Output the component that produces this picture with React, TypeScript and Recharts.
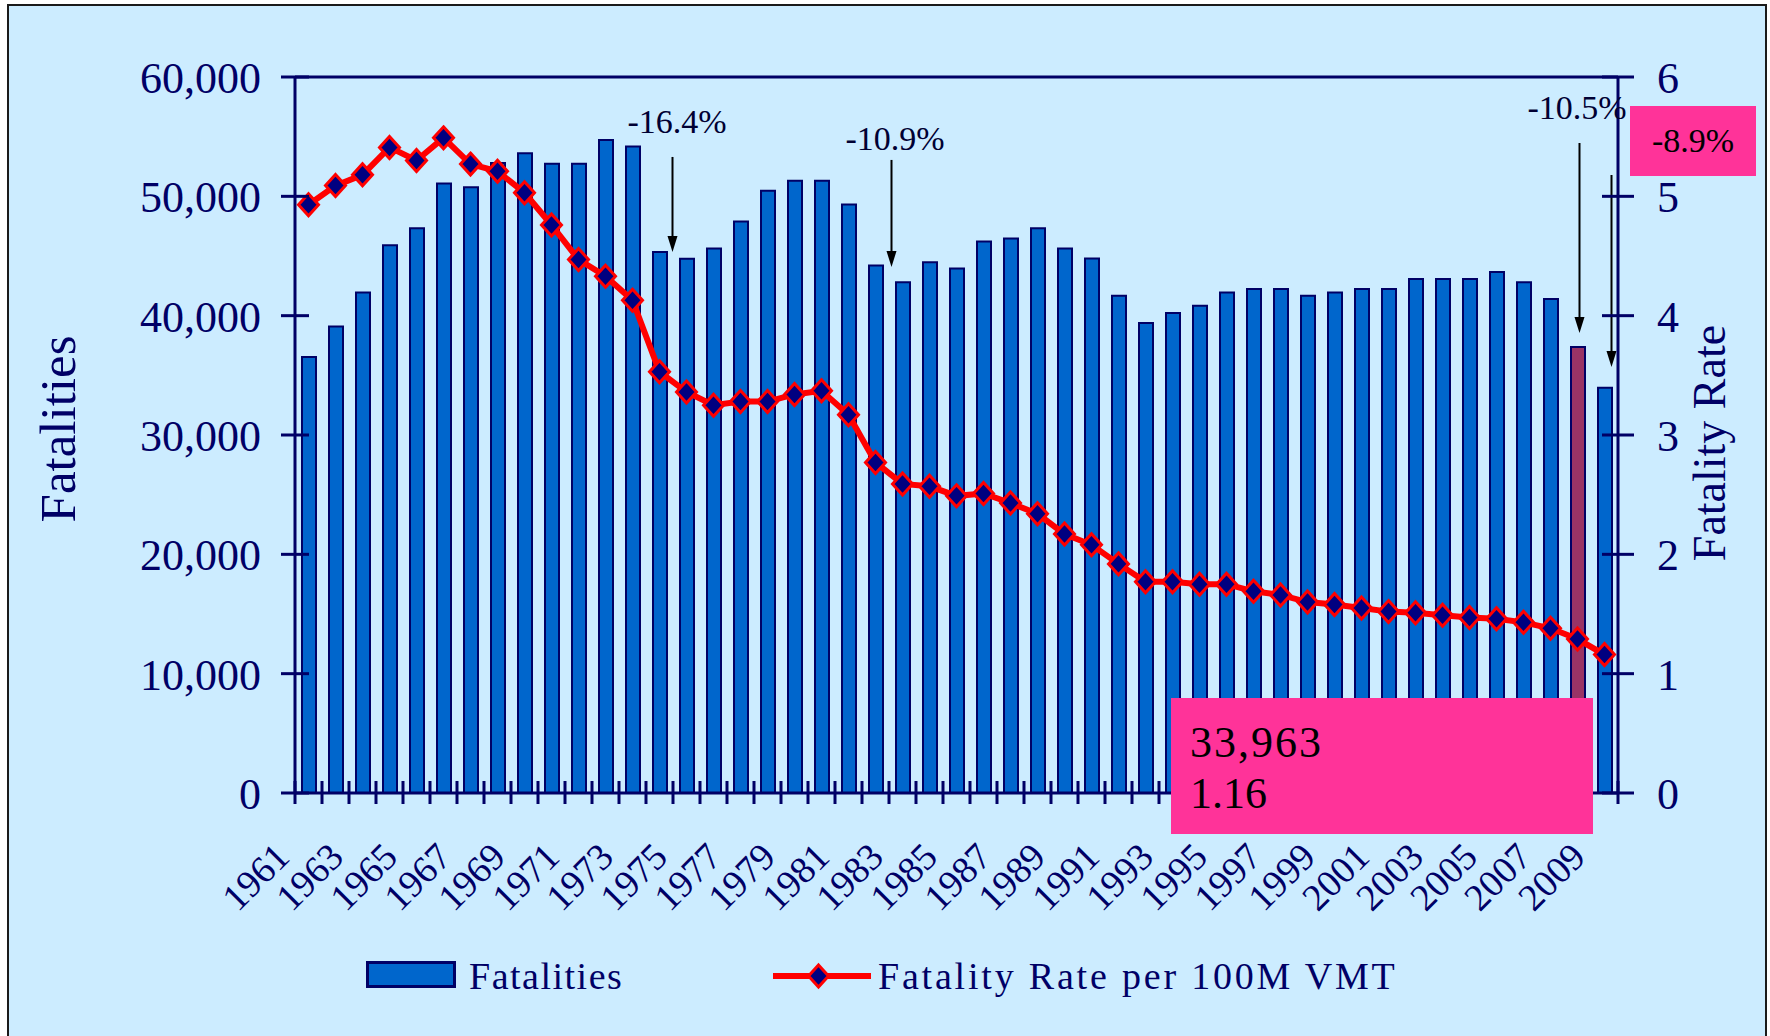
import React from "react";
import { ComposedChart, Bar, Line, XAxis, YAxis, Cell, ReferenceLine } from "recharts";

const years = [
  "1961", "1962", "1963", "1964", "1965", "1966", "1967", "1968", "1969", "1970",
  "1971", "1972", "1973", "1974", "1975", "1976", "1977", "1978", "1979", "1980",
  "1981", "1982", "1983", "1984", "1985", "1986", "1987", "1988", "1989", "1990",
  "1991", "1992", "1993", "1994", "1995", "1996", "1997", "1998", "1999", "2000",
  "2001", "2002", "2003", "2004", "2005", "2006", "2007", "2008", "2009",
];

const fatalities = [
  36540, 39100, 41950, 45910, 47330, 51070, 50770, 52800, 53610, 52720,
  52720, 54730, 54170, 45330, 44770, 45630, 47890, 50460, 51300, 51300,
  49320, 44200, 42790, 44480, 43960, 46220, 46470, 47330, 45630, 44800,
  41670, 39390, 40220, 40830, 41950, 42230, 42230, 41670, 41950, 42230,
  42230, 43080, 43080, 43080, 43650, 42790, 41400, 37380, 33963,
];

const fatalityRate = [
  4.93, 5.09, 5.18, 5.41, 5.3, 5.49, 5.27, 5.21, 5.03, 4.76,
  4.47, 4.33, 4.13, 3.53, 3.36, 3.25, 3.28, 3.28, 3.34, 3.37,
  3.17, 2.77, 2.59, 2.57, 2.49, 2.51, 2.43, 2.34, 2.17, 2.08,
  1.92, 1.77, 1.77, 1.75, 1.75, 1.69, 1.66, 1.6, 1.58, 1.55,
  1.52, 1.51, 1.49, 1.47, 1.46, 1.43, 1.38, 1.29, 1.16,
];

const leftTicks = [0, 10000, 20000, 30000, 40000, 50000, 60000];
const rightTicks = [0, 1, 2, 3, 4, 5, 6];
const highlightYear = "2008";

// arrows: year pointed at, start and tip in fatality units
const arrowYears = ["1974", "1982", "2008", "2009"];
const arrowFrom = [53300, 53050, 54470, 51790];
const arrowTo = [45340, 44080, 38550, 35700];
const arrowShift = [13, 16, 2, 7];

const NAVY = "#000066";
const FONT = "'Liberation Serif', 'Times New Roman', Times, serif";
const W = 1770;
const H = 1036;
const PLOT_LEFT = 295;
const PLOT_RIGHT = 1618;
const PLOT_TOP = 77;
const PLOT_BOTTOM = 793;
const BAND = (PLOT_RIGHT - PLOT_LEFT) / years.length;

const data = years.map((year, i) => ({
  year,
  fatalities: fatalities[i],
  rate: fatalityRate[i],
}));

function XTick(props: any) {
  const { x, y, payload } = props;
  const i = payload?.index ?? props.index ?? 0;
  const half = BAND / 2;
  const ax = x - 17;
  const ay = y + 66;
  return (
    <g>
      {i === 0 && (
        <line x1={x - half} x2={x - half} y1={y - 12} y2={y + 11} stroke={NAVY} strokeWidth={3} />
      )}
      <line x1={x + half} x2={x + half} y1={y - 12} y2={y + 11} stroke={NAVY} strokeWidth={3} />
      {i % 2 === 0 && (
        <text
          x={ax}
          y={ay}
          transform={`rotate(-45 ${ax} ${ay})`}
          textAnchor="end"
          fill={NAVY}
          fontSize={38}
          fontFamily={FONT}
        >
          {payload.value}
        </text>
      )}
    </g>
  );
}

function LeftTick(props: any) {
  const { x, y, payload } = props;
  return (
    <g>
      <line x1={x - 14} x2={x + 14} y1={y} y2={y} stroke={NAVY} strokeWidth={3} />
      <text x={x - 34} y={y + 16} textAnchor="end" fill={NAVY} fontSize={44} fontFamily={FONT}>
        {Number(payload.value).toLocaleString("en-US")}
      </text>
    </g>
  );
}

function RightTick(props: any) {
  const { x, y, payload } = props;
  return (
    <g>
      <line x1={x - 16} x2={x + 16} y1={y} y2={y} stroke={NAVY} strokeWidth={3} />
      <text x={x + 39} y={y + 16} textAnchor="start" fill={NAVY} fontSize={44} fontFamily={FONT}>
        {payload.value}
      </text>
    </g>
  );
}

function Diamond(props: any) {
  const { cx, cy } = props;
  if (cx == null || cy == null) return null;
  return (
    <path
      d={`M${cx},${cy - 11} L${cx + 10},${cy} L${cx},${cy + 11} L${cx - 10},${cy} Z`}
      fill="#000080"
      stroke="#FF0000"
      strokeWidth={3}
    />
  );
}

function arrowShape(dx: number) {
  return (props: any) => {
    const { x1, y1, x2, y2 } = props;
    const x = x1 + dx;
    return (
      <g>
        <line x1={x} x2={x} y1={y1} y2={y2 - 14} stroke="#000" strokeWidth={2} />
        <path d={`M${x - 5},${y2 - 16} L${x + 5},${y2 - 16} L${x},${y2} Z`} fill="#000" />
      </g>
    );
  };
}

export default function App() {
  const last = data[data.length - 1];
  return (
    <div style={{ position: "absolute", left: 0, top: 0, width: W, height: H, background: "#fff", overflow: "hidden" }}>
      <div
        style={{
          position: "absolute",
          left: 7,
          top: 4,
          width: 1760,
          height: 1060,
          boxSizing: "border-box",
          border: "2px solid #1a1a1a",
          background: "#CCECFF",
        }}
      />
      <div style={{ position: "absolute", left: 0, top: 0 }}>
        <ComposedChart
          width={W}
          height={H}
          data={data}
          margin={{ top: PLOT_TOP, right: 0, bottom: 0, left: 0 }}
        >
          <XAxis
            dataKey="year"
            height={H - PLOT_BOTTOM}
            interval={0}
            tickSize={0}
            tickMargin={0}
            tickLine={false}
            axisLine={{ stroke: NAVY, strokeWidth: 3 }}
            tick={<XTick />}
          />
          <YAxis
            yAxisId="left"
            width={PLOT_LEFT}
            domain={[0, 60000]}
            ticks={leftTicks}
            interval={0}
            tickSize={0}
            tickMargin={0}
            tickLine={false}
            axisLine={{ stroke: NAVY, strokeWidth: 3 }}
            tick={<LeftTick />}
          />
          <YAxis
            yAxisId="right"
            orientation="right"
            width={W - PLOT_RIGHT}
            domain={[0, 6]}
            ticks={rightTicks}
            interval={0}
            tickSize={0}
            tickMargin={0}
            tickLine={false}
            axisLine={{ stroke: NAVY, strokeWidth: 3 }}
            tick={<RightTick />}
          />
          <ReferenceLine yAxisId="left" y={60000} stroke={NAVY} strokeWidth={3} />
          <Bar
            yAxisId="left"
            dataKey="fatalities"
            barSize={14}
            fill="#0066CC"
            stroke={NAVY}
            strokeWidth={2}
            isAnimationActive={false}
          >
            {data.map((d) => (
              <Cell key={d.year} fill={d.year === highlightYear ? "#993366" : "#0066CC"} />
            ))}
          </Bar>
          <Line
            yAxisId="right"
            type="linear"
            dataKey="rate"
            stroke="#FF0000"
            strokeWidth={6}
            dot={(p: any) => <Diamond key={p.index} {...p} />}
            activeDot={false}
            isAnimationActive={false}
          />
          {arrowYears.map((yr, i) => (
            <ReferenceLine
              key={yr}
              yAxisId="left"
              segment={[
                { x: yr, y: arrowFrom[i] },
                { x: yr, y: arrowTo[i] },
              ]}
              shape={arrowShape(arrowShift[i])}
            />
          ))}
        </ComposedChart>
      </div>
      <svg
        width={W}
        height={H}
        style={{ position: "absolute", left: 0, top: 0, pointerEvents: "none" }}
        fontFamily={FONT}
      >
        <text x={75} y={429} transform="rotate(-90 75 429)" textAnchor="middle" fontSize={51} fill={NAVY}>
          Fatalities
        </text>
        <text x={1725} y={443} transform="rotate(-90 1725 443)" textAnchor="middle" fontSize={46} fill={NAVY}>
          Fatality Rate
        </text>

        <text x={677} y={133} textAnchor="middle" fontSize={34} fill="#000033">-16.4%</text>
        <text x={895} y={150} textAnchor="middle" fontSize={34} fill="#000033">-10.9%</text>
        <text x={1577} y={119} textAnchor="middle" fontSize={34} fill="#000033">-10.5%</text>

        <rect x={1630} y={106} width={126} height={70} fill="#FF3399" />
        <text x={1693} y={152} textAnchor="middle" fontSize={34} fill="#000">-8.9%</text>

        <rect x={1171} y={698} width={422} height={136} fill="#FF3399" />
        <text x={1190} y={757} fontSize={44} letterSpacing={2} fill="#000">
          {last.fatalities.toLocaleString("en-US")}
        </text>
        <text x={1190} y={808} fontSize={44} fill="#000">
          {last.rate.toFixed(2)}
        </text>

        <rect x={367.5} y={962.5} width={87} height={24} fill="#0066CC" stroke={NAVY} strokeWidth={3} />
        <text x={469} y={989} fontSize={38} letterSpacing={1.5} fill={NAVY}>Fatalities</text>
        <line x1={773} x2={871} y1={976} y2={976} stroke="#FF0000" strokeWidth={6} />
        <path d="M818.5,965 L828.5,976 L818.5,987 L808.5,976 Z" fill="#000080" stroke="#FF0000" strokeWidth={3} />
        <text x={878} y={989} fontSize={38} letterSpacing={2.8} fill={NAVY}>Fatality Rate per 100M VMT</text>
      </svg>
    </div>
  );
}
